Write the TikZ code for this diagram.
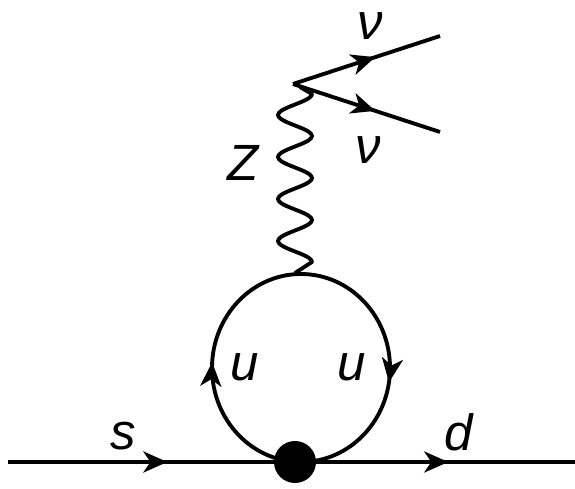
\documentclass[tikz,border=0pt]{standalone}
\usepackage{fontspec}
\setmainfont{Liberation Sans}
\usetikzlibrary{arrows.meta,decorations.markings}

\begin{document}
\begin{tikzpicture}[
  >={Stealth[length=4.8mm,width=4.2mm,inset=1.4mm]},
  line/.style={line width=2.2pt},
  fermion/.style={line,postaction={decorate},
    decoration={markings,mark=at position #1 with {\arrow{>}}}},
  blob/.style={circle,fill=black,minimum size=8.4mm,inner sep=0pt},
  lbl/.style={inner sep=0pt,font=\fontsize{29}{29}\selectfont\itshape}
]
  \useasboundingbox (0,0) rectangle (11.5,9.76);

  \coordinate (sin) at (0.16,0.52);
  \coordinate (dout) at (11.5,0.52);
  \coordinate (vtx) at (5.86,8.08);
  \coordinate (nu1) at (8.8,9.04);
  \coordinate (nu2) at (8.8,7.12);
  \coordinate (ztop) at (6.0,8.02);
  \coordinate (zbot) at (5.9,4.3);
  \coordinate (loopb) at (6.02,0.52);
  \coordinate (loopt) at (6.02,4.28);
  \node[blob] (core) at (5.9,0.52) {};

  \draw[fermion=.6] (sin) -- (core);
  \draw[fermion=.51] (core) -- (dout);
  \draw[fermion=.56] (vtx) -- (nu1);
  \draw[fermion=.56] (vtx) -- (nu2);

  % the loop, one half-ellipse per side
  \draw[fermion=.52] (loopb) arc[start angle=-90,end angle=-270,x radius=1.78,y radius=1.88];
  \draw[fermion=.55] (loopt) arc[start angle=90,end angle=-90,x radius=1.78,y radius=1.88];

  \draw[line,line join=round] (ztop) -- plot[domain=0:4,samples=81,smooth]
    ({5.9+.34*cos(360*\x)},{7.88-.84*\x}) -- (zbot);

  \node[lbl] (ls) at (2.46,1.04) {s};
  \node[lbl] (ld) at (9.18,1.12) {d};
  \node[lbl] (lu1) at (4.9,2.42) {u};
  \node[lbl] (lu2) at (7.04,2.42) {u};
  \node[lbl] (lz) at (4.86,6.5) {Z};
  \node[lbl] (ln1) at (7.4,9.24) {ν};
  \node[lbl] (ln2) at (7.36,6.76) {ν};
\end{tikzpicture}
\end{document}
